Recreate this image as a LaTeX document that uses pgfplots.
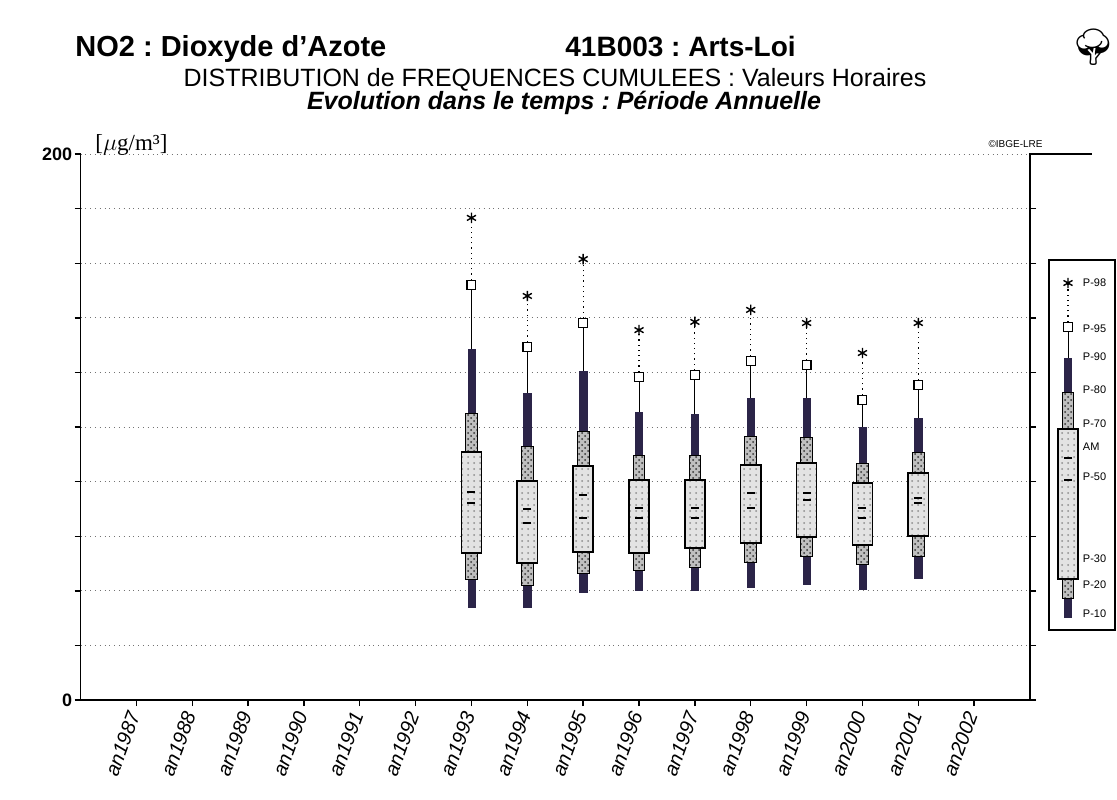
\documentclass[border=0pt]{standalone}
\usepackage{fontspec}
\setmainfont{Liberation Sans}
\newfontfamily\seriffont{Liberation Serif}
\newfontfamily\emojifont{Noto Emoji}
\usepackage{pgfplots}
\pgfplotsset{compat=1.18}
\usepackage{pgfplotstable}
\usetikzlibrary{patterns}
\definecolor{darkbar}{HTML}{2B2448}
\frenchspacing

\tikzset{
 darkb/.style={draw=darkbar, fill=darkbar, line width=0.3pt},
 hatchb/.style={draw=black, line width=0.5pt, fill=gray!50, postaction={pattern=crosshatch dots, pattern color=black!80}},
 boxb/.style={draw=black, line width=0.8pt, fill=gray!22, postaction={pattern=dots, pattern color=gray!90}},
}

% style, x, half width, y1, y2
\newcommand{\rect}[5]{%
 \pgfmathsetmacro\xa{#2-#3}\pgfmathsetmacro\xb{#2+#3}%
 \addplot[forget plot, #1] coordinates {(\xa,#4) (\xb,#4) (\xb,#5) (\xa,#5)} -- cycle;
}
% pos, P10, P20, P30, P70, P80, P90, P95, P98
\newcommand{\yb}[9]{%
 \addplot[forget plot, black, line width=0.5pt] coordinates {(#1,#7) (#1,#8)};
 \addplot[forget plot, black, dotted, line width=0.6pt] coordinates {(#1,#8) (#1,#9)};
 \rect{darkb}{#1}{0.065}{#2}{#7}
 \rect{hatchb}{#1}{0.105}{#3}{#6}
 \rect{boxb}{#1}{0.18}{#4}{#5}
 \addplot[forget plot, only marks, mark=square*, mark size=2.2pt, mark options={fill=white, draw=black, line width=0.6pt}] coordinates {(#1,#8)};
 \addplot[forget plot, only marks, mark=asterisk, mark size=2.6pt, mark options={black, line width=0.7pt}] coordinates {(#1,#9)};
}
\newcommand{\leglab}[2]{\node[anchor=west, inner sep=0, font=\fontsize{5.5}{6}\selectfont] at (axis cs:0.6,#1) {#2};}

\pgfplotstableread{
x  am    p50
6  76.2  72.0
7  70.0  64.8
8  75.1  66.7
9  70.3  66.7
10 70.3  66.7
11 75.8  70.3
12 75.8  73.3
13 70.3  66.7
14 74.0  72.2
}\meanmed

\begin{document}
\begin{tikzpicture}
\path[use as bounding box] (0,0) rectangle (558.5pt,399.5pt);

% titles
\node[anchor=base west, font=\bfseries\fontsize{14.5}{16}\selectfont, inner sep=0] at (37.5pt,371pt) {NO2 : Dioxyde d'Azote};
\node[anchor=base west, font=\bfseries\fontsize{14}{16}\selectfont, inner sep=0] at (282.5pt,371pt) {41B003 : Arts-Loi};
\node[anchor=base, font=\fontsize{12.5}{14}\selectfont, inner sep=0] at (277.5pt,356pt) {DISTRIBUTION de FREQUENCES CUMULEES : Valeurs Horaires};
\node[anchor=base, font=\bfseries\itshape\fontsize{12.5}{14}\selectfont, inner sep=0] at (282pt,344.5pt) {Evolution dans le temps : Période Annuelle};
\node[anchor=base west, font=\seriffont\fontsize{11.5}{12}\selectfont, inner sep=0] at (47.5pt,324pt) {[$\mu$g/m³]};
\node[anchor=base east, font=\fontsize{5}{6}\selectfont, inner sep=0] at (521.5pt,325.5pt) {©IBGE-LRE};
\node[font=\emojifont\fontsize{18}{20}\selectfont, inner sep=0] at (546.5pt,376pt) {🌳};

\begin{axis}[
 at={(40.25pt,49.5pt)}, anchor=south west, scale only axis,
 width=474.75pt, height=273pt,
 xmin=-1, xmax=16, ymin=0, ymax=200,
 axis line style={draw=none},
 xtick={0,...,15},
 xticklabels={an1987,an1988,an1989,an1990,an1991,an1992,an1993,an1994,an1995,an1996,an1997,an1998,an1999,an2000,an2001,an2002},
 xtick pos=bottom,
 ytick={0,20,...,200},
 yticklabels={0,,,,,,,,,,200},
 ytick pos=both,
 tick align=outside, major tick length=3pt,
 tick style={black, line width=0.7pt},
 ymajorgrids, grid style={dotted, black!55, line width=0.5pt},
 yticklabel style={font=\bfseries\fontsize{9}{10}\selectfont, inner sep=1pt},
 xticklabel style={rotate=70, anchor=east, font=\itshape\fontsize{10}{11}\selectfont},
 clip=false,
]
\draw[black, line width=0.8pt] (rel axis cs:0,1) -- (rel axis cs:0,0) -- (rel axis cs:1,0) -- (rel axis cs:1,1) -- ++(3pt,0);

\yb{6}{34.1}{44.3}{53.8}{90.8}{104.8}{128.6}{152.0}{176.6}
\yb{7}{34.1}{42.1}{50.2}{80.2}{92.7}{112.5}{129.3}{148.0}
\yb{8}{39.6}{46.5}{54.2}{85.7}{98.5}{120.5}{138.0}{161.5}
\yb{9}{40.3}{47.3}{53.8}{80.6}{89.4}{105.5}{118.3}{135.5}
\yb{10}{40.3}{48.7}{55.7}{80.6}{89.7}{104.8}{119.0}{138.5}
\yb{11}{41.4}{50.5}{57.5}{86.1}{96.7}{110.6}{124.2}{142.9}
\yb{12}{42.5}{52.4}{59.7}{86.8}{96.3}{110.6}{122.7}{138.1}
\yb{13}{40.7}{49.8}{56.8}{79.5}{86.8}{100.0}{109.9}{127.1}
\yb{14}{44.7}{52.4}{60.1}{83.2}{90.8}{103.3}{115.4}{138.1}

\addplot[forget plot, only marks, mark=-, mark size=2pt, mark options={black, line width=1pt}] table[x=x, y=am] {\meanmed};
\addplot[forget plot, only marks, mark=-, mark size=2pt, mark options={black, line width=1pt}] table[x=x, y=p50] {\meanmed};
\end{axis}

% legend
\begin{axis}[
 at={(524.5pt,84.5pt)}, anchor=south west, scale only axis,
 width=33pt, height=185pt,
 xmin=0, xmax=1.18, ymin=169, ymax=539,
 xtick=\empty, ytick=\empty,
 axis line style={black, line width=0.6pt},
 clip=false,
]
\yb{0.34}{182}{201}{220}{370}{407}{441}{472}{516}
\addplot[forget plot, only marks, mark=-, mark size=2pt, mark options={black, line width=1pt}] coordinates {(0.34,341) (0.34,319)};
\leglab{516}{P-98}
\leglab{470}{P-95}
\leglab{442}{P-90}
\leglab{409}{P-80}
\leglab{375}{P-70}
\leglab{352}{AM}
\leglab{322}{P-50}
\leglab{240}{P-30}
\leglab{214}{P-20}
\leglab{185}{P-10}
\end{axis}
\end{tikzpicture}
\end{document}
